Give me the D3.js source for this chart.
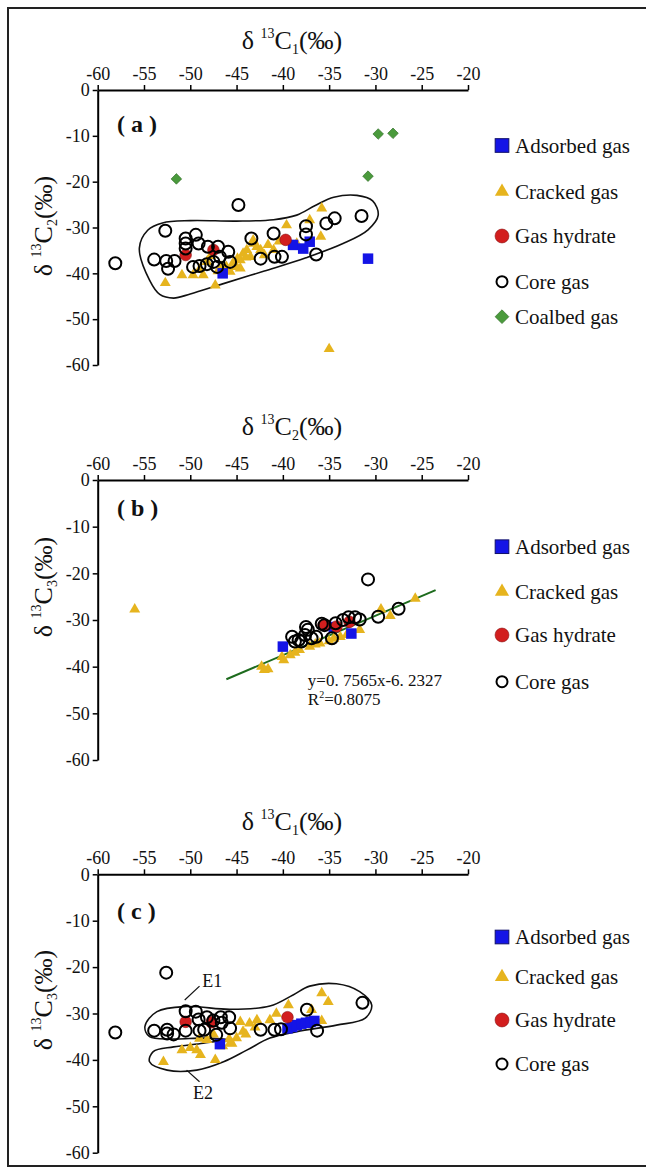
<!DOCTYPE html>
<html>
<head>
<meta charset="utf-8">
<script src="https://cdn.jsdelivr.net/npm/d3@7"></script>
<style>
  body { margin: 0; background: #fff; }
  text { font-family: "Liberation Serif", "Times New Roman", serif; }
</style>
</head>
<body>
<script>
// tick values, shared by all three panels
const xTicks = [-60, -55, -50, -45, -40, -35, -30, -25, -20];
const yTicks = [0, -10, -20, -30, -40, -50, -60];
const legendLabels = ["Adsorbed gas", "Cracked gas", "Gas hydrate", "Core gas", "Coalbed gas"];

// (a) d13C1 vs d13C2
const aAdsorbed = [[-46.5, -40.0], [-38.9, -33.8], [-37.8, -34.6], [-37.1, -33.1], [-30.8, -36.8]];
const aCracked = [[-52.7, -42.1], [-50.9, -40.4], [-49.7, -40.4], [-48.6, -40.4], [-47.3, -42.6],
  [-48.2, -37.5], [-47.0, -39.5], [-46.6, -38.6], [-46.1, -38.6], [-45.7, -39.6], [-45.4, -37.8],
  [-45.0, -38.6], [-44.6, -37.1], [-44.6, -38.9], [-44.3, -35.7], [-43.9, -34.9], [-43.5, -36.4],
  [-43.2, -33.5], [-43.2, -32.8], [-42.8, -34.2], [-42.4, -34.9], [-41.6, -33.8], [-41.0, -34.9],
  [-40.4, -33.0], [-39.6, -29.5], [-37.1, -28.4], [-35.8, -25.8], [-35.9, -32.0], [-35.0, -56.5],
  [-44.0, -36.5], [-42.0, -36.0], [-38.5, -33.5], [-47.8, -36.2], [-49.0, -39.2], [-44.9, -36.8]];
const aHydrate = [[-50.5, -36.0], [-47.5, -34.9], [-39.7, -32.7]];
const aCore = [[-58.1, -37.8], [-53.9, -37.0], [-52.7, -30.7], [-52.6, -37.3], [-52.4, -39.0], [-51.7, -37.3],
  [-50.5, -32.4], [-50.5, -33.5], [-50.5, -34.6], [-49.4, -31.6], [-49.1, -33.5], [-49.7, -38.6],
  [-49.0, -38.4], [-48.2, -38.0], [-48.1, -34.2], [-47.5, -37.5], [-47.1, -38.6], [-47.0, -34.2],
  [-46.8, -36.4], [-45.9, -35.3], [-45.7, -37.5], [-44.8, -25.1], [-43.4, -32.4], [-42.4, -36.8],
  [-41.0, -31.3], [-40.9, -36.4], [-40.1, -36.4], [-37.5, -29.7], [-37.5, -31.5], [-36.4, -35.9],
  [-35.3, -29.1], [-34.4, -28.0], [-31.5, -27.5]];
const aCoalbed = [[-51.5, -19.4], [-29.7, -9.6], [-28.1, -9.45], [-30.8, -18.8]];
const aEnvelope = [[-55.5, -34.5], [-54.6, -30.6], [-53.0, -29.0], [-50.0, -28.5], [-45.0, -28.6],
  [-41.0, -28.3], [-38.5, -27.3], [-36.5, -25.2], [-34.5, -23.4], [-32.0, -23.0], [-30.3, -24.2],
  [-29.7, -27.3], [-30.8, -30.5], [-33.5, -33.5], [-37.5, -36.6], [-42.0, -39.5], [-46.5, -42.3],
  [-50.0, -44.5], [-51.8, -45.4], [-53.3, -44.6], [-54.4, -41.5]];

// (b) d13C2 vs d13C3
const bAdsorbed = [[-40.0, -35.7], [-32.6, -32.9], [-34.5, -31.5]];
const bCracked = [[-56.0, -27.7], [-42.3, -40.0], [-42.0, -40.7], [-41.6, -40.5], [-40.1, -37.9],
  [-39.9, -38.6], [-39.2, -37.5], [-38.7, -37.0], [-38.2, -36.4], [-37.1, -35.7], [-36.5, -35.2],
  [-36.0, -35.0], [-35.0, -34.5], [-34.5, -34.0], [-33.8, -33.6], [-33.1, -33.2], [-31.7, -32.1],
  [-29.4, -27.7], [-28.4, -29.1], [-25.7, -25.4]];
const bHydrate = [[-35.6, -31.1], [-34.2, -31.4], [-32.8, -30.4]];
const bCore = [[-30.8, -21.3], [-29.7, -29.3], [-27.5, -27.6], [-31.7, -29.9], [-32.2, -29.4],
  [-32.9, -29.4], [-34.3, -30.7], [-35.5, -31.1], [-34.7, -33.9], [-39.0, -33.6], [-38.3, -34.3],
  [-37.6, -33.2], [-37.3, -32.1], [-36.9, -33.9], [-36.4, -33.6], [-38.7, -34.6], [-38.0, -34.6],
  [-37.5, -31.5], [-35.8, -30.8], [-33.5, -30.0]];
const bTrendX = [-46.1, -23.5];
const bTrendY = [-42.7, -23.6];
const bEquation = ["y=0. 7565x-6. 2327", "R", "2", "=0.8075"];

// (c) d13C1 vs d13C3
const cAdsorbed = [[-46.8, -36.6], [-39.5, -33.2], [-39.0, -32.9], [-38.5, -32.5], [-38.0, -32.2],
  [-37.5, -32.0], [-37.0, -31.8], [-36.6, -31.6]];
const cCracked = [[-52.9, -40.4], [-50.9, -37.9], [-50.0, -37.4], [-49.3, -37.9], [-48.9, -38.9],
  [-47.3, -40.0], [-49.0, -35.4], [-48.2, -35.7], [-46.5, -37.0], [-45.7, -36.4], [-45.5, -36.5],
  [-45.0, -35.3], [-45.8, -35.5], [-44.3, -33.9], [-44.0, -34.5], [-44.6, -31.8], [-43.6, -32.1],
  [-43.0, -33.0], [-42.8, -31.4], [-41.4, -31.4], [-40.7, -30.0], [-39.4, -28.2], [-36.9, -29.2],
  [-35.8, -25.6], [-35.1, -27.5], [-35.8, -31.6], [-47.5, -34.5]];
const cHydrate = [[-50.5, -31.8], [-47.7, -31.9], [-39.5, -30.8]];
const cCore = [[-52.6, -21.2], [-58.1, -34.1], [-53.9, -33.7], [-52.5, -33.5], [-52.5, -34.3],
  [-51.8, -34.5], [-50.5, -29.5], [-50.5, -33.7], [-49.4, -29.6], [-49.1, -31.3], [-49.0, -33.7],
  [-48.5, -33.5], [-48.2, -30.8], [-47.5, -31.5], [-47.2, -34.6], [-46.7, -30.8], [-46.6, -32.0],
  [-45.8, -30.8], [-45.7, -33.2], [-42.4, -33.5], [-40.9, -33.5], [-40.2, -33.4], [-37.4, -29.2],
  [-36.3, -33.7], [-31.4, -27.7]];
const cEnvelope = [[-54.9, -32.8], [-53.6, -29.6], [-50.4, -28.5], [-45.7, -29.1], [-41.4, -28.4],
  [-38.9, -26.0], [-37.1, -24.1], [-34.2, -23.6], [-31.7, -25.3], [-30.4, -28.2], [-31.1, -31.0],
  [-34.2, -32.5], [-38.5, -33.9], [-41.4, -35.3], [-43.9, -37.9], [-46.4, -40.4], [-49.3, -42.2],
  [-52.5, -42.2], [-54.4, -40.4], [-54.0, -38.2], [-51.8, -37.2], [-48.6, -36.4], [-46.1, -35.6],
  [-48.6, -35.3], [-51.8, -35.5], [-54.4, -35.0]];
// E1 / E2 labels: [label x, label y, leader x1, y1, x2, y2]
const cNotes = [["E1", -48.7, -24.3, -50.6, -27.1, -49.0, -24.1],
                ["E2", -49.7, -48.5, -50.4, -42.2, -49.0, -44.7]];

const W = 646, H = 1167;
const colors = { adsorbed: "#1414e6", cracked: "#e6b41e", hydrate: "#d21e1e", coalbed: "#4a9a3c", trend: "#1d6b1d" };

const svg = d3.select("body").append("svg")
  .attr("width", W)
  .attr("height", H);

// outer frame
svg.append("rect")
  .attr("x", 8).attr("y", 8)
  .attr("width", W + 20).attr("height", H - 9)
  .attr("fill", "none").attr("stroke", "#222").attr("stroke-width", 2);

const panels = [
  { tag: "a", top: 90, bottom: 365, xs: "1", ys: "2", xTitleY: 49, yTitleY: 226, tagY: 132,
    legendY: [145.5, 191.7, 236, 281.7, 316.7],
    series: { adsorbed: aAdsorbed, cracked: aCracked, hydrate: aHydrate, core: aCore, coalbed: aCoalbed },
    envelope: aEnvelope },
  { tag: "b", top: 480, bottom: 760, xs: "2", ys: "3", xTitleY: 435, yTitleY: 587, tagY: 516,
    legendY: [546.7, 591.7, 635, 681.7],
    series: { adsorbed: bAdsorbed, cracked: bCracked, hydrate: bHydrate, core: bCore },
    trend: true },
  { tag: "c", top: 874.3, bottom: 1152.7, xs: "1", ys: "3", xTitleY: 830, yTitleY: 1000, tagY: 919,
    legendY: [937, 977, 1020, 1064],
    series: { adsorbed: cAdsorbed, cracked: cCracked, hydrate: cHydrate, core: cCore },
    envelope: cEnvelope, notes: cNotes }
];

function isoTitle(t, sub) {
  t.append("tspan").text("δ ");
  t.append("tspan").attr("font-size", 14).attr("dy", -11).text("13");
  t.append("tspan").attr("dy", 11).text("C");
  t.append("tspan").attr("font-size", 14).attr("dy", 5).text(sub);
  t.append("tspan").attr("dy", -5).text("(‰)");
}

function drawMarker(g, kind, cx, cy, big) {
  const k = big ? 1.3 : 1;
  if (kind === "adsorbed") {
    const s = 10.5 * k;
    g.append("rect").attr("x", cx - s / 2).attr("y", cy - s / 2).attr("width", s).attr("height", s)
      .attr("fill", colors.adsorbed).attr("stroke", big ? "#10106a" : "none").attr("stroke-width", 1);
  } else if (kind === "cracked") {
    g.append("path").attr("transform", `translate(${cx},${cy})`)
      .attr("d", d3.symbol().type(d3.symbolTriangle).size(52 * k * k)())
      .attr("fill", colors.cracked);
  } else if (kind === "hydrate") {
    g.append("circle").attr("cx", cx).attr("cy", cy).attr("r", 5.8 * (big ? 1.2 : 1))
      .attr("fill", colors.hydrate).attr("stroke", "#8a1010").attr("stroke-width", 0.6);
  } else if (kind === "core") {
    g.append("circle").attr("cx", cx).attr("cy", cy).attr("r", big ? 5.5 : 6)
      .attr("fill", "none").attr("stroke", "#000").attr("stroke-width", 2);
  } else if (kind === "coalbed") {
    const s = 7.5 * k;
    g.append("rect").attr("x", -s / 2).attr("y", -s / 2).attr("width", s).attr("height", s)
      .attr("transform", `translate(${cx},${cy}) rotate(45)`)
      .attr("fill", colors.coalbed).attr("stroke", "#2e6a25").attr("stroke-width", 0.6);
  }
}

panels.forEach(function(p) {
  const x = d3.scaleLinear().domain([-60, -20]).range([97.7, 468]);
  const y = d3.scaleLinear().domain([0, -60]).range([p.top, p.bottom]);
  const g = svg.append("g");

  // axes
  const xAxis = g.append("g")
    .attr("transform", `translate(0,${p.top})`)
    .call(d3.axisTop(x).tickValues(xTicks).tickSize(5).tickSizeOuter(0).tickPadding(5).tickFormat(d => String(d)));
  const yAxis = g.append("g")
    .attr("transform", `translate(${x(-60)},0)`)
    .call(d3.axisLeft(y).tickValues(yTicks).tickSize(5).tickSizeOuter(0).tickPadding(3).tickFormat(d => String(d)));
  [xAxis, yAxis].forEach(function(a) {
    a.attr("font-family", null).attr("font-size", 18);
    a.select(".domain").attr("stroke", "#000").attr("stroke-width", 2);
    a.selectAll(".tick line").attr("stroke", "#000").attr("stroke-width", 1.5);
    a.selectAll(".tick text").attr("fill", "#111");
  });

  // titles
  const xt = g.append("text").attr("x", 292).attr("y", p.xTitleY)
    .attr("text-anchor", "middle").attr("font-size", 26).attr("fill", "#111");
  isoTitle(xt, p.xs);
  const yt = g.append("text").attr("transform", `translate(52,${p.yTitleY}) rotate(-90)`)
    .attr("text-anchor", "middle").attr("font-size", 26).attr("fill", "#111");
  isoTitle(yt, p.ys);

  g.append("text").attr("x", 117).attr("y", p.tagY)
    .attr("font-size", 24).attr("font-weight", "bold").attr("fill", "#111")
    .text(`( ${p.tag} )`);

  // envelope
  if (p.envelope) {
    g.append("path")
      .datum(p.envelope)
      .attr("d", d3.line().x(d => x(d[0])).y(d => y(d[1])).curve(d3.curveCatmullRomClosed.alpha(0.5)))
      .attr("fill", "none").attr("stroke", "#111").attr("stroke-width", 1.6);
  }

  // trend line (b)
  if (p.trend) {
    g.append("line")
      .attr("x1", x(bTrendX[0])).attr("y1", y(bTrendY[0]))
      .attr("x2", x(bTrendX[1])).attr("y2", y(bTrendY[1]))
      .attr("stroke", colors.trend).attr("stroke-width", 2);
  }

  // points
  ["cracked", "adsorbed", "hydrate", "core", "coalbed"].forEach(function(kind) {
    const pts = p.series[kind];
    if (!pts) return;
    const sg = g.append("g");
    pts.forEach(d => drawMarker(sg, kind, x(d[0]), y(d[1]), false));
  });

  // equation (b)
  if (p.trend) {
    g.append("text").attr("x", x(-37.3)).attr("y", y(-44.1))
      .attr("font-size", 17).attr("fill", "#111").text(bEquation[0]);
    const r2 = g.append("text").attr("x", x(-37.3)).attr("y", y(-48.2))
      .attr("font-size", 17).attr("fill", "#111");
    r2.append("tspan").text(bEquation[1]);
    r2.append("tspan").attr("font-size", 10).attr("dy", -7).text(bEquation[2]);
    r2.append("tspan").attr("dy", 7).text(bEquation[3]);
  }

  // E1/E2 notes (c)
  if (p.notes) {
    p.notes.forEach(function(n) {
      g.append("line")
        .attr("x1", x(n[3])).attr("y1", y(n[4])).attr("x2", x(n[5])).attr("y2", y(n[6]))
        .attr("stroke", "#111").attr("stroke-width", 1.2);
      g.append("text").attr("x", x(n[1])).attr("y", y(n[2]))
        .attr("font-size", 18).attr("fill", "#111").text(n[0]);
    });
  }

  // legend
  const kinds = ["adsorbed", "cracked", "hydrate", "core", "coalbed"];
  p.legendY.forEach(function(ly, i) {
    drawMarker(g, kinds[i], 502, ly, true);
    g.append("text").attr("x", 515).attr("y", ly + 7)
      .attr("font-size", 21).attr("fill", "#111").text(legendLabels[i]);
  });
});
</script>
</body>
</html>
